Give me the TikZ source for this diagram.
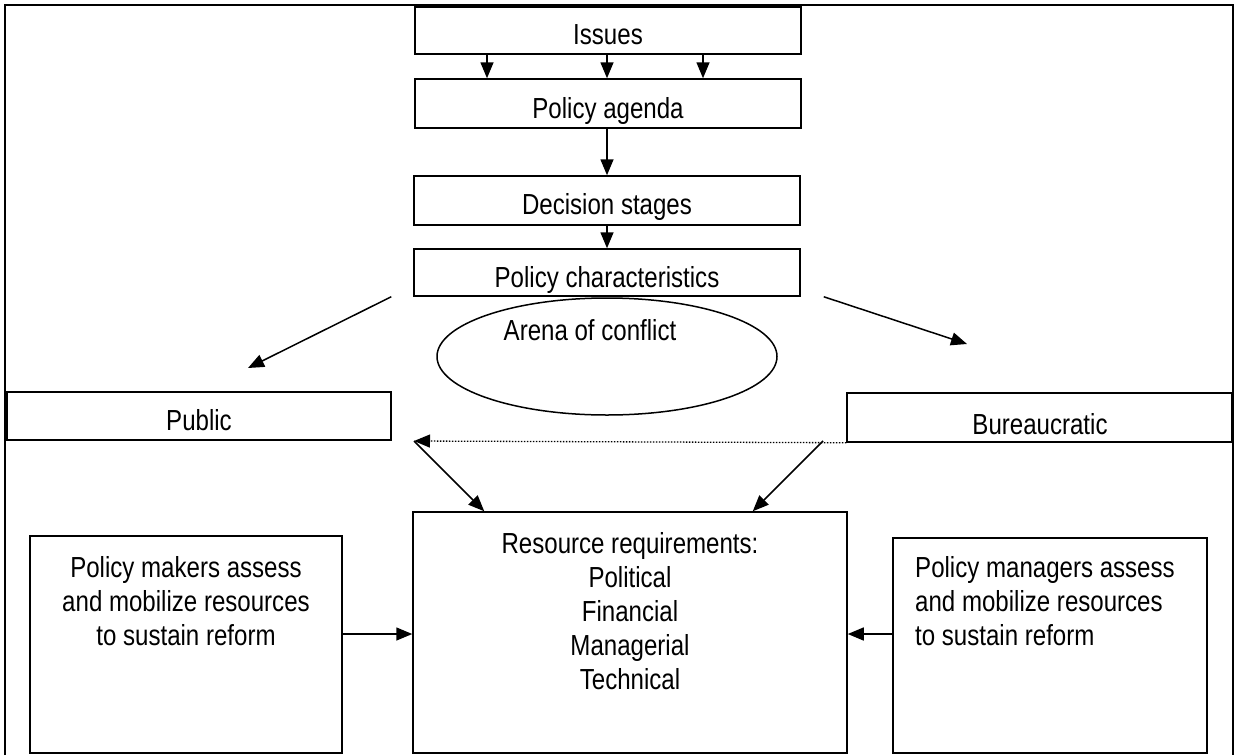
\documentclass[tikz,border=0pt]{standalone}
\usepackage{fontspec}
\setmainfont{Liberation Sans}[FakeStretch=0.83]
\usetikzlibrary{arrows.meta,shapes.geometric}
\begin{document}
\begin{tikzpicture}[x=1pt,y=-1pt,
  box/.style={draw,line width=1.5pt,inner sep=0pt,rectangle},
  txt/.style={inner sep=0pt,anchor=base,font=\fontsize{29}{34}\selectfont},
  arr/.style={line width=1.5pt,-{Triangle[length=16pt,width=13pt]}},
  dotarr/.style={arr,line width=1.3pt,dash pattern=on 1.5pt off 1.5pt},
]
\useasboundingbox (0,0) rectangle (1236,755);
% outer frame
\draw[line width=1.2pt] (5,755) -- (5,5) -- (1233,5) -- (1233,755);

% boxes
\node[box,minimum width=386pt,minimum height=47pt] (issues)   at (608,30.5)   {};
\node[box,minimum width=386pt,minimum height=49pt] (agenda)   at (608,103.5)  {};
\node[box,minimum width=386pt,minimum height=49pt] (decision) at (607,200.5)  {};
\node[box,minimum width=386pt,minimum height=47pt] (pchar)    at (607,272.5)  {};
\node[box,minimum width=384pt,minimum height=48pt] (public)   at (199,416)    {};
\node[box,minimum width=385pt,minimum height=49pt] (bureau)   at (1039.5,417.5) {};
\node[box,minimum width=434pt,minimum height=241pt] (resource) at (630,632.5) {};
\node[box,minimum width=312pt,minimum height=217pt] (makers)   at (186,644.5) {};
\node[box,minimum width=314pt,minimum height=215pt] (managers) at (1050,645.5) {};
\node[draw,ellipse,line width=1.5pt,inner sep=0pt,minimum width=340pt,minimum height=117pt] (arena) at (607,356.5) {};

% texts
\node[txt] (tissues)   at (608,44)  {Issues};
\node[txt] (tagenda)   at (608,118) {Policy agenda};
\node[txt] (tdecision) at (607,214) {Decision stages};
\node[txt] (tpchar)    at (607,287) {Policy characteristics};
\node[txt] (tarena)    at (590,340) {Arena of conflict};
\node[txt] (tpublic)   at (199,430) {Public};
\node[txt] (tbureau)   at (1040,434) {Bureaucratic};
\foreach \t [count=\i] in {Resource requirements:,Political,Financial,Managerial,Technical}
  \node[txt] (tres\i) at (630,{519+34*\i}) {\t};
\foreach \t [count=\i] in {Policy makers assess,and mobilize resources,to sustain reform}
  \node[txt] (tmak\i) at (186,{543+34*\i}) {\t};
\foreach \t [count=\i] in {Policy managers assess,and mobilize resources,to sustain reform}
  \node[txt,anchor=base west] (tman\i) at (915,{543+34*\i}) {\t};

% free ends of connectors
\coordinate (pubtip) at (248,368);
\coordinate (burtip) at (967,344);
\coordinate (lmeet)  at (414,441);
\coordinate (rmeet)  at (823,441);

% connectors
\foreach \s in {-121,-1,95}
  \draw[arr] ([xshift=\s pt]issues.south) -- ([xshift=\s pt]agenda.north);
\draw[arr] ([xshift=-1pt]agenda.south) -- (decision.north);
\draw[arr] (decision.south) -- (pchar.north);
\draw[arr] ([xshift=-22pt]pchar.south west) -- (pubtip);
\draw[arr] ([xshift=23pt]pchar.south east) -- (burtip);
\draw[dotarr] (bureau.south west) -- (lmeet);
\draw[arr] (lmeet) -- ([xshift=72pt]resource.north west);
\draw[arr] (rmeet) -- ([xshift=-95pt]resource.north east);
\draw[arr] ([yshift=10.5pt]makers.east) -- ([yshift=-1.5pt]resource.west);
\draw[arr] ([yshift=11.5pt]managers.west) -- ([yshift=-1.5pt]resource.east);
\end{tikzpicture}
\end{document}
